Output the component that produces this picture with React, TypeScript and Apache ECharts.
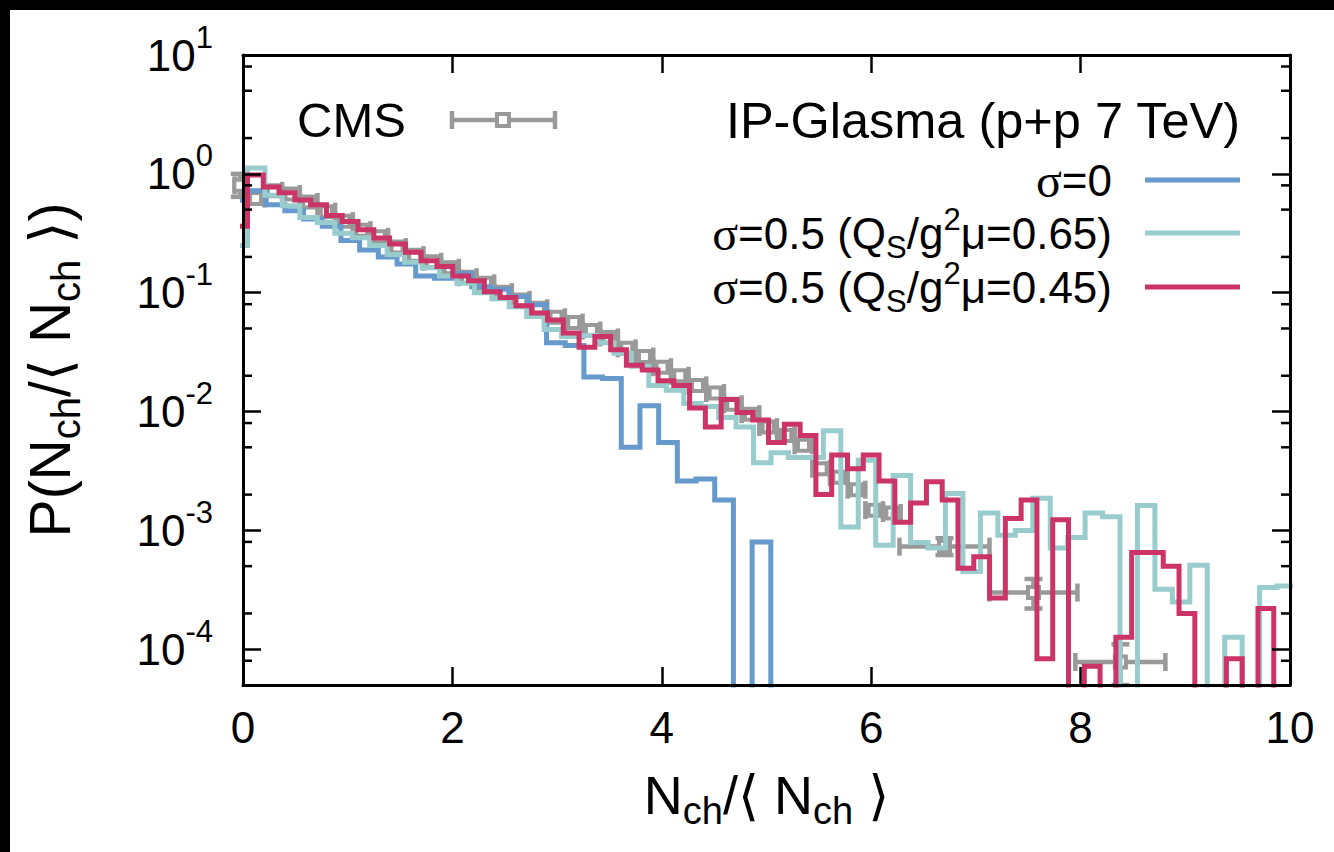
import { useEffect, useRef } from "react";
import * as echarts from "echarts";

const FONT = '"Liberation Sans", Arial, Helvetica, "DejaVu Sans", sans-serif';
const SYMBOL_FONT = '"Liberation Serif", "DejaVu Serif", serif';

const BLUE = "#6699cc";
const TEAL = "#99cccc";
const CRIMSON = "#cc3366";
const GRAY = "#999999";

// Axis ranges and ticks
const xRange = [0, 10];
const xStep = 2;
const yRange = [5e-5, 10];
const yMinorTicks = [8e-5, 2e-4, 5e-4, 8e-4, 2e-3, 5e-3, 8e-3, 0.02, 0.05, 0.08, 0.2, 0.5, 0.8, 2, 5, 8];

// IP-Glasma sigma=0 histogram (first bin edge, bin width, contents)
const blueStart = -0.1355;
const blueWidth = 0.1785;
const blueValues = [
  0.6, 0.72, 0.55, 0.49, 0.417, 0.363, 0.275, 0.229, 0.2, 0.174, 0.138, 0.132, 0.145, 0.112, 0.107,
  0.093, 0.079, 0.038, 0.036, 0.0195, 0.019, 0.005, 0.0112, 0.0055, 0.0026, 0.0027, 0.0018, 0, 0.0008, 0,
];

// sigma=0.5, Qs/g^2 mu = 0.65
const tealStart = -0.1237;
const tealWidth = 0.16667;
const tealValues = [
  0.25, 1.12, 0.66, 0.54, 0.43, 0.39, 0.316, 0.29, 0.25, 0.21, 0.18, 0.162, 0.138, 0.12, 0.1, 0.089,
  0.076, 0.063, 0.049, 0.0427, 0.0437, 0.038, 0.031, 0.024, 0.0166, 0.0151, 0.0117, 0.011, 0.0089,
  0.0074, 0.0037, 0.0045, 0.0041, 0.0041, 0.0069, 0.00107, 0.0039, 0.00075, 0.0029, 0.00079, 0.00071,
  0.00204, 0.00045, 0.0014, 0.00091, 0.001, 0.00186, 0.00071, 0.00087, 0.0014, 0.0013, 0, 0.00162,
  0.00032, 0.00025, 0.00051, 0, 0.000126, 0, 0.00033, 0.00034,
];

// sigma=0.5, Qs/g^2 mu = 0.45
const redStart = -0.1078;
const redWidth = 0.1508;
const redValues = [
  0.363, 0.977, 0.776, 0.692, 0.603, 0.55, 0.447, 0.398, 0.339, 0.288, 0.257, 0.219, 0.186, 0.166,
  0.138, 0.126, 0.102, 0.0912, 0.0776, 0.0676, 0.0589, 0.0457, 0.0347, 0.0427, 0.0331, 0.0245, 0.0224,
  0.0182, 0.0166, 0.0107, 0.0074, 0.0126, 0.0098, 0.0085, 0.0055, 0.0078, 0.0063, 0.002, 0.0043,
  0.0033, 0.0043, 0.0026, 0.00117, 0.0017, 0.00257, 0.0018, 0.00048, 0.0006, 0.00027, 0.00126, 0.0018,
  0.000083, 0.00123, 0, 0.000072, 0, 0.000126, 0.00065, 0.00065, 0.0005, 0.0002, 0, 0, 0.000083, 0,
  0.00022, 0,
];

// CMS data: narrow bins at low multiplicity
const cmsStart = 0.036;
const cmsWidth = 0.1688;
const cmsValues = [
  0.62, 0.72, 0.676, 0.58, 0.48, 0.4, 0.336, 0.295, 0.242, 0.207, 0.182, 0.162, 0.135, 0.12, 0.101,
  0.087, 0.074, 0.062, 0.056, 0.048, 0.042, 0.034, 0.029, 0.0236, 0.02, 0.0166, 0.0143, 0.0115, 0.0095,
  0.0074, 0.0063, 0.0052, 0.0033, 0.0028, 0.0022, 0.00148, 0.0014,
];
// CMS points with visible vertical uncertainties
const cmsWideX = [-0.03, 6.7, 7.55, 8.38];
const cmsWideXErr = [0.05, 0.43, 0.42, 0.43];
const cmsWideY = [0.8, 0.00073, 0.0003, 0.000078];
const cmsWideLow = [0.64, 0.00062, 0.00022, 0.00005];
const cmsWideHigh = [1.0, 0.00086, 0.00039, 0.00011];

// empty bins are pushed far below the visible range so the step drops through the frame
const EMPTY_BIN = 1e-9;

function stepPoints(start: number, width: number, values: number[]) {
  const pts: number[][] = [];
  values.forEach((v, i) => {
    const y = v > 0 ? v : EMPTY_BIN;
    const x0 = start + i * width;
    pts.push([x0, y], [x0 + width, y]);
  });
  return pts;
}

function cmsData() {
  const rows: number[][] = [];
  cmsValues.forEach((v, i) => {
    const x = cmsStart + (i + 0.5) * cmsWidth;
    rows.push([x, v, cmsWidth / 2, v, v]);
  });
  cmsWideX.forEach((x, i) => {
    rows.push([x, cmsWideY[i], cmsWideXErr[i], cmsWideLow[i], cmsWideHigh[i]]);
  });
  return rows;
}

const CAP = 9;
const MARK = 11;
const ERR_W = 4.5;

export default function App() {
  const ref = useRef<HTMLDivElement>(null);

  useEffect(() => {
    if (!ref.current) return;
    const chart = echarts.init(ref.current, undefined, { renderer: "svg" });

    const axisLine = { show: true, onZero: false, lineStyle: { color: "#000", width: 3 } };
    const majorTick = { show: true, inside: true, length: 18, lineStyle: { color: "#000", width: 2.5 } };
    // subscript: bottom aligned with top padding pushes it below the baseline
    const titleSub = { fontSize: 38, fontFamily: FONT, color: "#000", verticalAlign: "bottom", padding: [32, 0, 0, 0] };
    const yTitleSub = { fontSize: 40, fontFamily: FONT, color: "#000", verticalAlign: "bottom", padding: [32, 0, 0, 0] };

    const yLabel = (v: number) => {
      const e = Math.log10(v);
      const r = Math.round(e);
      if (Math.abs(e - r) > 1e-6) return "";
      return `{b|10}{s|${r}}`;
    };

    const option: any = {
      animation: false,
      backgroundColor: "#ffffff",
      grid: { left: 243, right: 44, top: 55, bottom: 167, containLabel: false },
      xAxis: [
        {
          type: "value",
          min: xRange[0],
          max: xRange[1],
          interval: xStep,
          position: "bottom",
          z: 10,
          axisLine,
          axisTick: majorTick,
          splitLine: { show: false },
          axisLabel: { show: true, margin: 20, fontSize: 44, fontFamily: FONT, color: "#000" },
          name: "N{sub|ch}/⟨ N{sub|ch} ⟩",
          nameLocation: "middle",
          nameGap: 75,
          nameTextStyle: { fontSize: 54, fontFamily: FONT, color: "#000", rich: { sub: titleSub } },
        },
        {
          type: "value",
          min: xRange[0],
          max: xRange[1],
          interval: xStep,
          position: "top",
          z: 10,
          axisLine,
          axisTick: majorTick,
          splitLine: { show: false },
          axisLabel: { show: false },
        },
      ],
      yAxis: [
        {
          type: "log",
          logBase: 10,
          min: yRange[0],
          max: yRange[1],
          position: "left",
          z: 10,
          axisLine,
          axisTick: majorTick,
          splitLine: { show: false },
          axisLabel: {
            show: true,
            margin: 30,
            formatter: yLabel,
            rich: {
              b: { fontSize: 44, fontFamily: FONT, color: "#000" },
              s: { fontSize: 31, fontFamily: FONT, color: "#000", verticalAlign: "top", padding: [0, 0, 36, 0] },
            },
          },
          name: "P(N{sub|ch}/⟨ N{sub|ch} ⟩)",
          nameLocation: "middle",
          nameRotate: 90,
          nameGap: 157,
          nameTextStyle: { fontSize: 57, fontFamily: FONT, color: "#000", rich: { sub: yTitleSub } },
        },
        {
          type: "log",
          logBase: 10,
          min: yRange[0],
          max: yRange[1],
          position: "right",
          z: 10,
          axisLine,
          axisTick: majorTick,
          splitLine: { show: false },
          axisLabel: { show: false },
        },
      ],
      series: [
        {
          type: "custom",
          name: "CMS",
          xAxisIndex: 0,
          yAxisIndex: 0,
          clip: false,
          silent: true,
          z: 2,
          encode: { x: 0, y: 1 },
          data: cmsData(),
          renderItem: (_p: any, api: any) => {
            const x = api.value(0);
            const y = api.value(1);
            const xe = api.value(2);
            const lo = api.value(3);
            const hi = api.value(4);
            const c = api.coord([x, y]);
            const l = api.coord([x - xe, y]);
            const r = api.coord([x + xe, y]);
            const st = { stroke: GRAY, lineWidth: ERR_W };
            const children: any[] = [
              { type: "line", shape: { x1: l[0], y1: c[1], x2: r[0], y2: c[1] }, style: st },
              { type: "line", shape: { x1: l[0], y1: c[1] - CAP, x2: l[0], y2: c[1] + CAP }, style: st },
              { type: "line", shape: { x1: r[0], y1: c[1] - CAP, x2: r[0], y2: c[1] + CAP }, style: st },
            ];
            if (hi > lo) {
              const pl = api.coord([x, lo]);
              const ph = api.coord([x, hi]);
              children.push(
                { type: "line", shape: { x1: c[0], y1: ph[1], x2: c[0], y2: pl[1] }, style: st },
                { type: "line", shape: { x1: c[0] - CAP, y1: ph[1], x2: c[0] + CAP, y2: ph[1] }, style: st },
                { type: "line", shape: { x1: c[0] - CAP, y1: pl[1], x2: c[0] + CAP, y2: pl[1] }, style: st }
              );
            }
            children.push({
              type: "rect",
              shape: { x: c[0] - MARK / 2, y: c[1] - MARK / 2, width: MARK, height: MARK },
              style: { fill: "#ffffff", stroke: GRAY, lineWidth: 4 },
            });
            return { type: "group", children };
          },
        },
        {
          type: "line",
          name: "σ=0",
          data: stepPoints(blueStart, blueWidth, blueValues),
          showSymbol: false,
          symbol: "none",
          silent: true,
          clip: true,
          z: 3,
          lineStyle: { color: BLUE, width: 5, join: "miter", cap: "butt" },
        },
        {
          type: "line",
          name: "σ=0.5 (0.65)",
          data: stepPoints(tealStart, tealWidth, tealValues),
          showSymbol: false,
          symbol: "none",
          silent: true,
          clip: true,
          z: 3,
          lineStyle: { color: TEAL, width: 5, join: "miter", cap: "butt" },
        },
        {
          type: "line",
          name: "σ=0.5 (0.45)",
          data: stepPoints(redStart, redWidth, redValues),
          showSymbol: false,
          symbol: "none",
          silent: true,
          clip: true,
          z: 3,
          lineStyle: { color: CRIMSON, width: 5, join: "miter", cap: "butt" },
        },
        {
          type: "custom",
          name: "minor ticks",
          xAxisIndex: 0,
          yAxisIndex: 0,
          clip: false,
          silent: true,
          z: 10,
          encode: { x: 0, y: 1 },
          data: yMinorTicks.map((v) => [xRange[0], v]),
          renderItem: (_p: any, api: any) => {
            const v = api.value(1);
            const a = api.coord([xRange[0], v]);
            const b = api.coord([xRange[1], v]);
            const st = { stroke: "#000", lineWidth: 2.5 };
            return {
              type: "group",
              children: [
                { type: "line", shape: { x1: a[0], y1: a[1], x2: a[0] + 9, y2: a[1] }, style: st },
                { type: "line", shape: { x1: b[0] - 9, y1: b[1], x2: b[0], y2: b[1] }, style: st },
              ],
            };
          },
        },
      ],
      graphic: [
        { type: "rect", shape: { x: 0, y: 0, width: 1334, height: 10 }, style: { fill: "#000" }, silent: true },
        { type: "rect", shape: { x: 0, y: 0, width: 10, height: 852 }, style: { fill: "#000" }, silent: true },
        {
          type: "text",
          x: 297,
          y: 120,
          style: { text: "CMS", fontSize: 49, fontFamily: FONT, fill: "#000", align: "left", verticalAlign: "middle" },
        },
        { type: "line", shape: { x1: 452, y1: 120, x2: 555, y2: 120 }, style: { stroke: GRAY, lineWidth: ERR_W } },
        { type: "line", shape: { x1: 452, y1: 111, x2: 452, y2: 129 }, style: { stroke: GRAY, lineWidth: ERR_W } },
        { type: "line", shape: { x1: 555, y1: 111, x2: 555, y2: 129 }, style: { stroke: GRAY, lineWidth: ERR_W } },
        {
          type: "rect",
          shape: { x: 497, y: 114, width: 12, height: 12 },
          style: { fill: "#fff", stroke: GRAY, lineWidth: 4 },
        },
        {
          type: "text",
          x: 1240,
          y: 120,
          style: {
            text: "IP-Glasma (p+p 7 TeV)",
            fontSize: 50.5,
            fontFamily: FONT,
            fill: "#000",
            align: "right",
            verticalAlign: "middle",
          },
        },
        ...[
          { label: "{g|σ}=0", color: BLUE, y: 180 },
          { label: "{g|σ}=0.5 (Q{sub|S}/g{sup|2}μ=0.65)", color: TEAL, y: 233 },
          { label: "{g|σ}=0.5 (Q{sub|S}/g{sup|2}μ=0.45)", color: CRIMSON, y: 287 },
        ].flatMap((e) => [
          {
            type: "text",
            x: 1112,
            y: e.y,
            style: {
              text: e.label,
              fontSize: 44,
              fontFamily: FONT,
              fill: "#000",
              align: "right",
              verticalAlign: "middle",
              rich: {
                g: { fontSize: 48, fontFamily: SYMBOL_FONT, fill: "#000" },
                sub: { fontSize: 31, fontFamily: FONT, fill: "#000", verticalAlign: "bottom", padding: [28, 0, 0, 0] },
                sup: { fontSize: 31, fontFamily: FONT, fill: "#000", verticalAlign: "top", padding: [0, 0, 28, 0] },
              },
            },
          },
          { type: "line", shape: { x1: 1145, y1: e.y, x2: 1240, y2: e.y }, style: { stroke: e.color, lineWidth: 5 } },
        ]),
      ],
    };

    chart.setOption(option);
    return () => chart.dispose();
  }, []);

  return <div ref={ref} style={{ position: "absolute", left: 0, top: 0, width: 1334, height: 852 }} />;
}
